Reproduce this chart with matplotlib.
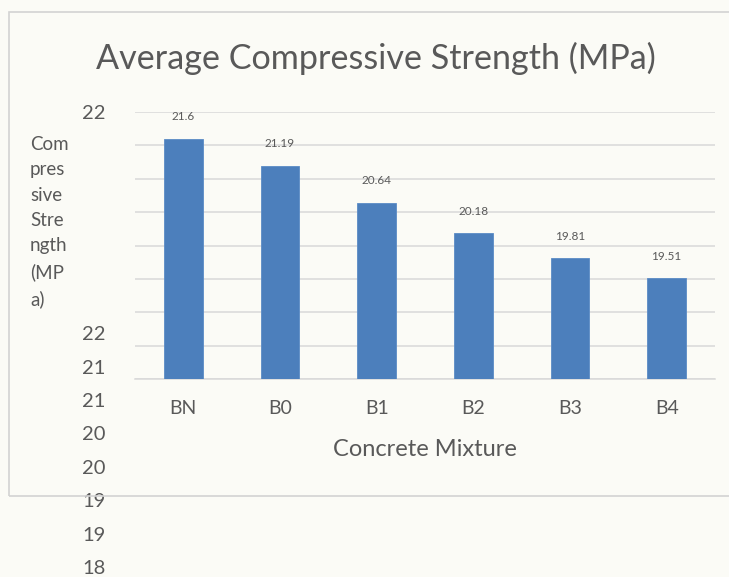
import matplotlib.pyplot as plt
import matplotlib.transforms as mtransforms
from matplotlib.patches import Rectangle

# data
mixtures = ["BN", "B0", "B1", "B2", "B3", "B4"]
strength = [21.6, 21.19, 20.64, 20.18, 19.81, 19.51]
y_ticks = [22, 21.5, 21, 20.5, 20, 19.5, 19, 18.5, 18]
y_tick_labels = ["22", "22", "21", "21", "20", "20", "19", "19", "18"]

bg = "#fbfbf6"
text_col = "#595959"
grid_col = "#d9d9d9"
bar_col = "#4c7fbc"

plt.rcParams['font.family'] = ['Lato', 'DejaVu Sans']

fig = plt.figure(figsize=(7.29, 5.77), dpi=100)
fig.patch.set_facecolor(bg)

W, H = 729, 577
# chart frame (runs off the right edge of the picture)
fig.patches.append(Rectangle((9 / W, 1 - 496 / H), 1.0, (496 - 12) / H,
                             transform=fig.transFigure, fill=False,
                             edgecolor="#d3d3d3", lw=1.2, clip_on=False))

ax = fig.add_axes([135 / W, 1 - 379 / H, (715 - 135) / W, (379 - 112) / H])
ax.set_facecolor("none")

x = range(len(mixtures))
bars = ax.bar(x, strength, width=0.40, color=bar_col, edgecolor="#5b8cc6",
              linewidth=0.6, zorder=3)
for b, v in zip(bars, strength):
    ax.annotate(f"{v:g}", (b.get_x() + b.get_width() / 2, v), xytext=(0, 12),
                textcoords="offset points", ha="center", va="bottom",
                fontsize=8.5, color=text_col)

ax.set_ylim(18, 22)
ax.set_xlim(-0.5, len(mixtures) - 0.5)
ax.set_yticks(y_ticks)
ax.set_yticklabels(y_tick_labels)
ax.set_xticks(list(x))
ax.set_xticklabels(mixtures)
ax.yaxis.grid(True, color=grid_col, lw=1.1, zorder=0)
ax.tick_params(axis="y", length=0, pad=21, labelsize=14.5, labelcolor=text_col)
ax.tick_params(axis="x", length=0, pad=15, labelsize=14, labelcolor=text_col)
for s in ["top", "right", "left"]:
    ax.spines[s].set_visible(False)
ax.spines["bottom"].set_color(grid_col)
ax.spines["bottom"].set_linewidth(1.1)

# the broken Excel layout: all but the top tick label are pushed down
shift = mtransforms.ScaledTranslation(0, -188 / 100, fig.dpi_scale_trans)
for lab in ax.get_yticklabels()[1:]:
    lab.set_transform(lab.get_transform() + shift)
    lab.set_clip_on(False)

ax.set_xlabel("Concrete Mixture", fontsize=17, color=text_col, labelpad=16)

fig.text(30 / W, 1 - 222 / H, "Com\npres\nsive\nStre\nngth\n(MP\na)",
         ha="left", va="center", fontsize=13.5, color=text_col, linespacing=1.6)

fig.text(376 / W, 1 - 58 / H, "Average Compressive Strength (MPa)",
         ha="center", va="center", fontsize=24.6, color=text_col)

fig.savefig("out.png", dpi=100, facecolor=bg)
